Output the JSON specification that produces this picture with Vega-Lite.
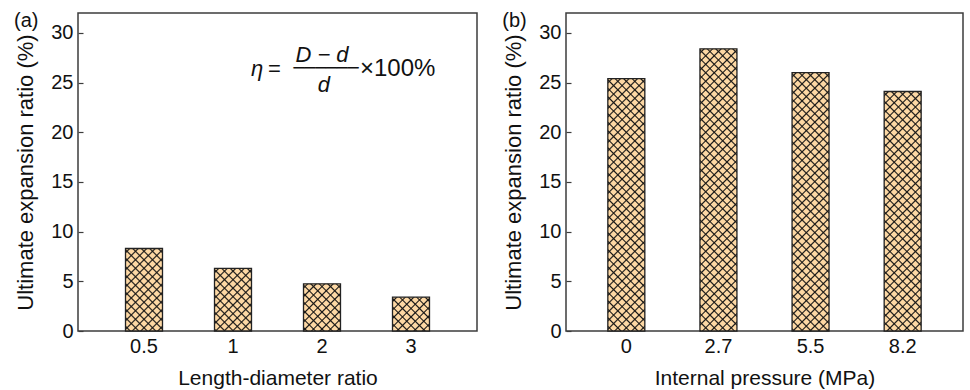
{
  "$schema": "https://vega.github.io/schema/vega-lite/v6.json",
  "padding": {"left": 13, "top": 10, "right": 4, "bottom": 0},
  "background": "white",
  "params": [
    {"name": "hs", "value": [
      {"offset":0.008,"color":"rgba(0,0,0,0)"},{"offset":0.0125,"color":"#1a1a1a"},{"offset":0.017,"color":"rgba(0,0,0,0)"},
      {"offset":0.033,"color":"rgba(0,0,0,0)"},{"offset":0.0375,"color":"#1a1a1a"},{"offset":0.042,"color":"rgba(0,0,0,0)"},
      {"offset":0.058,"color":"rgba(0,0,0,0)"},{"offset":0.0625,"color":"#1a1a1a"},{"offset":0.067,"color":"rgba(0,0,0,0)"},
      {"offset":0.083,"color":"rgba(0,0,0,0)"},{"offset":0.0875,"color":"#1a1a1a"},{"offset":0.092,"color":"rgba(0,0,0,0)"},
      {"offset":0.108,"color":"rgba(0,0,0,0)"},{"offset":0.1125,"color":"#1a1a1a"},{"offset":0.117,"color":"rgba(0,0,0,0)"},
      {"offset":0.133,"color":"rgba(0,0,0,0)"},{"offset":0.1375,"color":"#1a1a1a"},{"offset":0.142,"color":"rgba(0,0,0,0)"},
      {"offset":0.158,"color":"rgba(0,0,0,0)"},{"offset":0.1625,"color":"#1a1a1a"},{"offset":0.167,"color":"rgba(0,0,0,0)"},
      {"offset":0.183,"color":"rgba(0,0,0,0)"},{"offset":0.1875,"color":"#1a1a1a"},{"offset":0.192,"color":"rgba(0,0,0,0)"},
      {"offset":0.208,"color":"rgba(0,0,0,0)"},{"offset":0.2125,"color":"#1a1a1a"},{"offset":0.217,"color":"rgba(0,0,0,0)"},
      {"offset":0.233,"color":"rgba(0,0,0,0)"},{"offset":0.2375,"color":"#1a1a1a"},{"offset":0.242,"color":"rgba(0,0,0,0)"},
      {"offset":0.258,"color":"rgba(0,0,0,0)"},{"offset":0.2625,"color":"#1a1a1a"},{"offset":0.267,"color":"rgba(0,0,0,0)"},
      {"offset":0.283,"color":"rgba(0,0,0,0)"},{"offset":0.2875,"color":"#1a1a1a"},{"offset":0.292,"color":"rgba(0,0,0,0)"},
      {"offset":0.308,"color":"rgba(0,0,0,0)"},{"offset":0.3125,"color":"#1a1a1a"},{"offset":0.317,"color":"rgba(0,0,0,0)"},
      {"offset":0.333,"color":"rgba(0,0,0,0)"},{"offset":0.3375,"color":"#1a1a1a"},{"offset":0.342,"color":"rgba(0,0,0,0)"},
      {"offset":0.358,"color":"rgba(0,0,0,0)"},{"offset":0.3625,"color":"#1a1a1a"},{"offset":0.367,"color":"rgba(0,0,0,0)"},
      {"offset":0.383,"color":"rgba(0,0,0,0)"},{"offset":0.3875,"color":"#1a1a1a"},{"offset":0.392,"color":"rgba(0,0,0,0)"},
      {"offset":0.408,"color":"rgba(0,0,0,0)"},{"offset":0.4125,"color":"#1a1a1a"},{"offset":0.417,"color":"rgba(0,0,0,0)"},
      {"offset":0.433,"color":"rgba(0,0,0,0)"},{"offset":0.4375,"color":"#1a1a1a"},{"offset":0.442,"color":"rgba(0,0,0,0)"},
      {"offset":0.458,"color":"rgba(0,0,0,0)"},{"offset":0.4625,"color":"#1a1a1a"},{"offset":0.467,"color":"rgba(0,0,0,0)"},
      {"offset":0.483,"color":"rgba(0,0,0,0)"},{"offset":0.4875,"color":"#1a1a1a"},{"offset":0.492,"color":"rgba(0,0,0,0)"},
      {"offset":0.508,"color":"rgba(0,0,0,0)"},{"offset":0.5125,"color":"#1a1a1a"},{"offset":0.517,"color":"rgba(0,0,0,0)"},
      {"offset":0.533,"color":"rgba(0,0,0,0)"},{"offset":0.5375,"color":"#1a1a1a"},{"offset":0.542,"color":"rgba(0,0,0,0)"},
      {"offset":0.558,"color":"rgba(0,0,0,0)"},{"offset":0.5625,"color":"#1a1a1a"},{"offset":0.567,"color":"rgba(0,0,0,0)"},
      {"offset":0.583,"color":"rgba(0,0,0,0)"},{"offset":0.5875,"color":"#1a1a1a"},{"offset":0.592,"color":"rgba(0,0,0,0)"},
      {"offset":0.608,"color":"rgba(0,0,0,0)"},{"offset":0.6125,"color":"#1a1a1a"},{"offset":0.617,"color":"rgba(0,0,0,0)"},
      {"offset":0.633,"color":"rgba(0,0,0,0)"},{"offset":0.6375,"color":"#1a1a1a"},{"offset":0.642,"color":"rgba(0,0,0,0)"},
      {"offset":0.658,"color":"rgba(0,0,0,0)"},{"offset":0.6625,"color":"#1a1a1a"},{"offset":0.667,"color":"rgba(0,0,0,0)"},
      {"offset":0.683,"color":"rgba(0,0,0,0)"},{"offset":0.6875,"color":"#1a1a1a"},{"offset":0.692,"color":"rgba(0,0,0,0)"},
      {"offset":0.708,"color":"rgba(0,0,0,0)"},{"offset":0.7125,"color":"#1a1a1a"},{"offset":0.717,"color":"rgba(0,0,0,0)"},
      {"offset":0.733,"color":"rgba(0,0,0,0)"},{"offset":0.7375,"color":"#1a1a1a"},{"offset":0.742,"color":"rgba(0,0,0,0)"},
      {"offset":0.758,"color":"rgba(0,0,0,0)"},{"offset":0.7625,"color":"#1a1a1a"},{"offset":0.767,"color":"rgba(0,0,0,0)"},
      {"offset":0.783,"color":"rgba(0,0,0,0)"},{"offset":0.7875,"color":"#1a1a1a"},{"offset":0.792,"color":"rgba(0,0,0,0)"},
      {"offset":0.808,"color":"rgba(0,0,0,0)"},{"offset":0.8125,"color":"#1a1a1a"},{"offset":0.817,"color":"rgba(0,0,0,0)"},
      {"offset":0.833,"color":"rgba(0,0,0,0)"},{"offset":0.8375,"color":"#1a1a1a"},{"offset":0.842,"color":"rgba(0,0,0,0)"},
      {"offset":0.858,"color":"rgba(0,0,0,0)"},{"offset":0.8625,"color":"#1a1a1a"},{"offset":0.867,"color":"rgba(0,0,0,0)"},
      {"offset":0.883,"color":"rgba(0,0,0,0)"},{"offset":0.8875,"color":"#1a1a1a"},{"offset":0.892,"color":"rgba(0,0,0,0)"},
      {"offset":0.908,"color":"rgba(0,0,0,0)"},{"offset":0.9125,"color":"#1a1a1a"},{"offset":0.917,"color":"rgba(0,0,0,0)"},
      {"offset":0.933,"color":"rgba(0,0,0,0)"},{"offset":0.9375,"color":"#1a1a1a"},{"offset":0.942,"color":"rgba(0,0,0,0)"},
      {"offset":0.958,"color":"rgba(0,0,0,0)"},{"offset":0.9625,"color":"#1a1a1a"},{"offset":0.967,"color":"rgba(0,0,0,0)"},
      {"offset":0.983,"color":"rgba(0,0,0,0)"},{"offset":0.9875,"color":"#1a1a1a"},{"offset":0.992,"color":"rgba(0,0,0,0)"}
    ]}
  ],
  "config": {
    "view": {"stroke": "#3c3c3c", "strokeWidth": 1.5},
    "font": "Liberation Sans",
    "axis": {
      "labelFont": "Liberation Sans", "titleFont": "Liberation Sans",
      "labelFontSize": 20, "titleFontSize": 21, "titleFontWeight": "normal",
      "labelColor": "#111", "titleColor": "#111",
      "domain": false, "grid": false, "tickColor": "#3c3c3c", "tickWidth": 1.2
    },
    "axisX": {"labelAngle": 0, "tickSize": -5, "labelPadding": 10, "titlePadding": 11},
    "axisY": {"tickSize": -5, "labelPadding": 10, "titlePadding": 13, "titleFontSize": 22},
    "text": {"font": "Liberation Sans", "color": "#111"},
    "concat": {"spacing": 23}
  },
  "hconcat": [
    {
      "width": 399, "height": 318,
      "layer": [
        {"data": {"values": [{"lbl": "(a)"}]},
         "mark": {"type": "text", "fontSize": 20, "align": "left", "baseline": "alphabetic", "dx": -130},
         "encoding": {"text": {"field": "lbl", "type": "nominal"}, "x": {"datum": "0.5", "type": "ordinal"}, "y": {"datum": 30.6, "type": "quantitative"}}},
        {"data": {"values": [{"lbl": "η"}]},
         "mark": {"type": "text", "fontStyle": "italic", "fontSize": 22, "align": "left", "baseline": "alphabetic", "dx": -71},
         "encoding": {"text": {"field": "lbl", "type": "nominal"}, "x": {"datum": "2", "type": "ordinal"}, "y": {"datum": 25.66, "type": "quantitative"}}},
        {"data": {"values": [{"lbl": "="}]},
         "mark": {"type": "text", "fontSize": 22, "align": "left", "baseline": "alphabetic", "dx": -54},
         "encoding": {"text": {"field": "lbl", "type": "nominal"}, "x": {"datum": "2", "type": "ordinal"}, "y": {"datum": 25.66, "type": "quantitative"}}},
        {"data": {"values": [{"lbl": "D − d"}]},
         "mark": {"type": "text", "fontStyle": "italic", "fontSize": 22, "align": "center", "baseline": "alphabetic", "dx": 0},
         "encoding": {"text": {"field": "lbl", "type": "nominal"}, "x": {"datum": "2", "type": "ordinal"}, "y": {"datum": 27.1, "type": "quantitative"}}},
        {"data": {"values": [{"lbl": "──────"}]},
         "mark": {"type": "text", "font": "DejaVu Sans", "fontSize": 18, "align": "center", "baseline": "middle", "dx": 4},
         "encoding": {"text": {"field": "lbl", "type": "nominal"}, "x": {"datum": "2", "type": "ordinal"}, "y": {"datum": 26.33, "type": "quantitative"}}},
        {"data": {"values": [{"lbl": "d"}]},
         "mark": {"type": "text", "fontStyle": "italic", "fontSize": 22, "align": "center", "baseline": "alphabetic", "dx": 2},
         "encoding": {"text": {"field": "lbl", "type": "nominal"}, "x": {"datum": "2", "type": "ordinal"}, "y": {"datum": 24.1, "type": "quantitative"}}},
        {"data": {"values": [{"lbl": "×100%"}]},
         "mark": {"type": "text", "fontSize": 24, "align": "left", "baseline": "alphabetic", "dx": 38},
         "encoding": {"text": {"field": "lbl", "type": "nominal"}, "x": {"datum": "2", "type": "ordinal"}, "y": {"datum": 25.66, "type": "quantitative"}}},
        {
          "data": {"values": [
            {"ratio": "0.5", "eta": 8.3},
            {"ratio": "1", "eta": 6.3},
            {"ratio": "2", "eta": 4.75},
            {"ratio": "3", "eta": 3.4}
          ]},
          "encoding": {
            "x": {"field": "ratio", "type": "ordinal",
                  "scale": {"domain": ["0.5", "1", "2", "3"], "paddingInner": 0, "paddingOuter": 0.2416},
                  "title": "Length-diameter ratio",
                  "axis": {"labelAngle": 0, "tickSize": -5, "labelPadding": 10, "titlePadding": 11}},
            "y": {"field": "eta", "type": "quantitative",
                  "scale": {"domain": [0, 32], "nice": false},
                  "title": "Ultimate expansion ratio (%)",
                  "axis": {"values": [0,2.5,5,7.5,10,12.5,15,17.5,20,22.5,25,27.5,30],
                           "labelExpr": "datum.value % 5 == 0 ? datum.label : ''",
                           "tickSize": -5, "labelPadding": 10, "titlePadding": 13, "titleFontSize": 22,
                           "encode": {"ticks": {"update": {"x2": {"signal": "datum.value % 5 == 0 ? 5 : 3"}}}}}}
          },
          "layer": [
            {"mark": {"type": "bar", "size": 37, "fill": "#FDD8A4"}},
            {"mark": {"type": "bar", "size": 37, "fill": {"expr": "{gradient:'linear',x1:0,y1:0,x2:12580/(1369+pow(datum.eta*9.9375,2)),y2:340*datum.eta*9.9375/(1369+pow(datum.eta*9.9375,2)),stops:hs}"}}},
            {"mark": {"type": "bar", "size": 37, "stroke": "#222", "strokeWidth": 1.3, "fill": {"expr": "{gradient:'linear',x1:1,y1:0,x2:1-12580/(1369+pow(datum.eta*9.9375,2)),y2:340*datum.eta*9.9375/(1369+pow(datum.eta*9.9375,2)),stops:hs}"}}}
          ]
        }
      ]
    },
    {
      "width": 397, "height": 318,
      "layer": [
        {"data": {"values": [{"lbl": "(b)"}]},
         "mark": {"type": "text", "fontSize": 20, "align": "left", "baseline": "alphabetic", "dx": -124},
         "encoding": {"text": {"field": "lbl", "type": "nominal"}, "x": {"datum": "0", "type": "ordinal"}, "y": {"datum": 30.6, "type": "quantitative"}}},
        {
          "data": {"values": [
            {"p": "0", "eta": 25.4},
            {"p": "2.7", "eta": 28.4},
            {"p": "5.5", "eta": 26.0},
            {"p": "8.2", "eta": 24.1}
          ]},
          "encoding": {
            "x": {"field": "p", "type": "ordinal",
                  "scale": {"domain": ["0", "2.7", "5.5", "8.2"], "paddingInner": 0, "paddingOuter": 0.155},
                  "title": "Internal pressure (MPa)",
                  "axis": {"labelAngle": 0, "tickSize": -5, "labelPadding": 10, "titlePadding": 11}},
            "y": {"field": "eta", "type": "quantitative",
                  "scale": {"domain": [0, 32], "nice": false},
                  "title": "Ultimate expansion ratio (%)",
                  "axis": {"values": [0,2.5,5,7.5,10,12.5,15,17.5,20,22.5,25,27.5,30],
                           "labelExpr": "datum.value % 5 == 0 ? datum.label : ''",
                           "tickSize": -5, "labelPadding": 10, "titlePadding": 13, "titleFontSize": 22,
                           "encode": {"ticks": {"update": {"x2": {"signal": "datum.value % 5 == 0 ? 5 : 3"}}}}}}
          },
          "layer": [
            {"mark": {"type": "bar", "size": 37, "fill": "#FDD8A4"}},
            {"mark": {"type": "bar", "size": 37, "fill": {"expr": "{gradient:'linear',x1:0,y1:0,x2:12580/(1369+pow(datum.eta*9.9375,2)),y2:340*datum.eta*9.9375/(1369+pow(datum.eta*9.9375,2)),stops:hs}"}}},
            {"mark": {"type": "bar", "size": 37, "stroke": "#222", "strokeWidth": 1.3, "fill": {"expr": "{gradient:'linear',x1:1,y1:0,x2:1-12580/(1369+pow(datum.eta*9.9375,2)),y2:340*datum.eta*9.9375/(1369+pow(datum.eta*9.9375,2)),stops:hs}"}}}
          ]
        }
      ]
    }
  ]
}
